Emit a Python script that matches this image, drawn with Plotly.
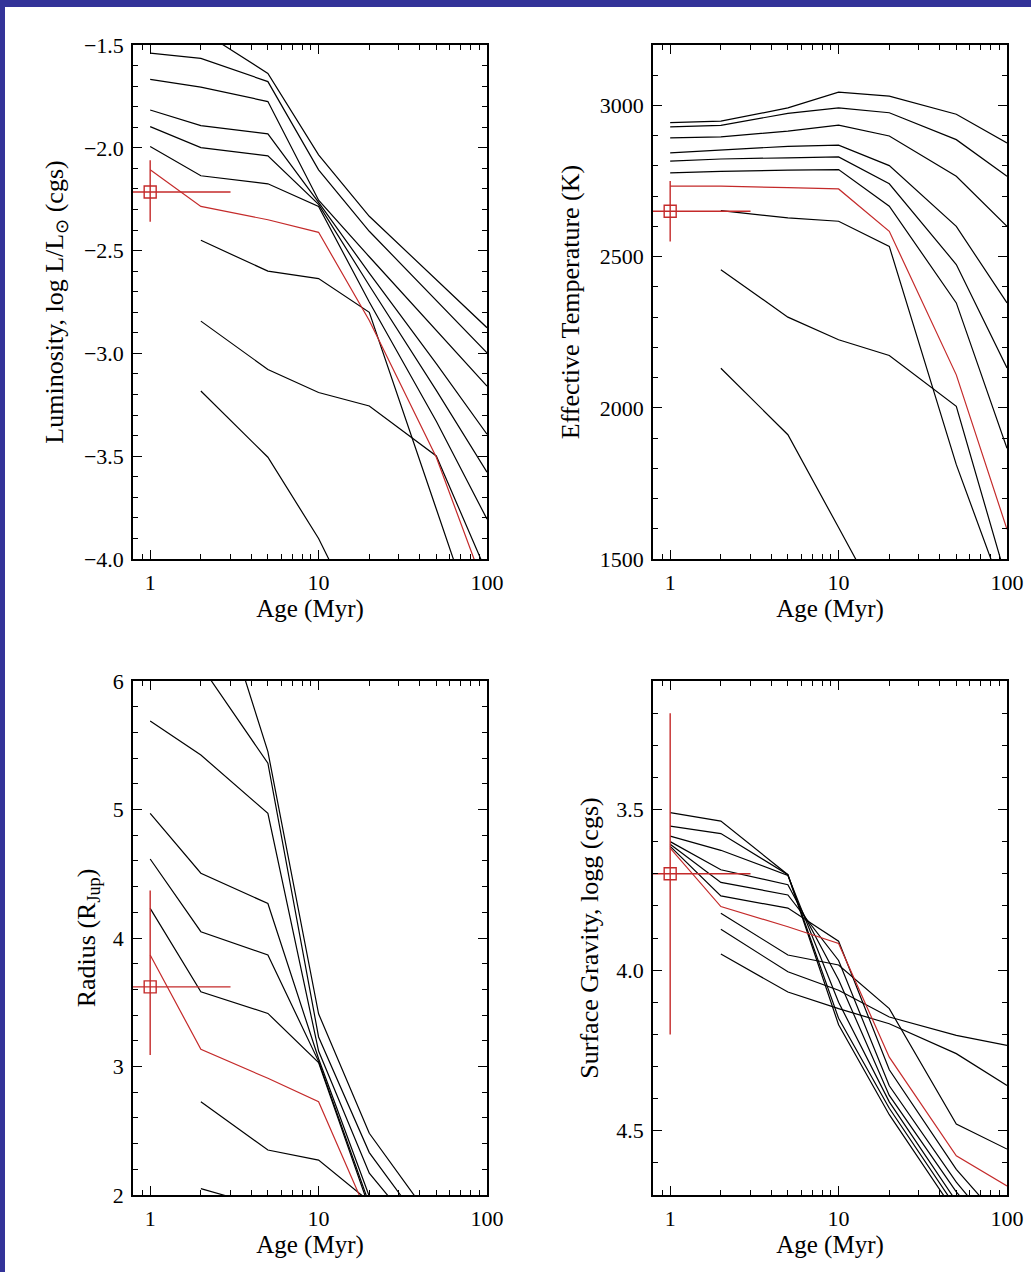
import plotly.graph_objects as go

# ---------------- data ----------------
ages = [1, 2, 5, 10, 20, 50, 100]  # Myr

# Luminosity, log L/Lsun  (black model tracks, top to bottom)
logL_t0 = [-1.40, -1.43, -1.638, -2.034, -2.333, -2.64, -2.875]
logL_t1 = [-1.540, -1.565, -1.678, -2.107, -2.406, -2.74, -2.997]
logL_t2 = [-1.667, -1.705, -1.775, -2.255, -2.53, -2.89, -3.159]
logL_t3 = [-1.816, -1.892, -1.932, -2.265, -2.61, -3.05, -3.393]
logL_t4 = [-1.897, -1.999, -2.039, -2.275, -2.67, -3.18, -3.578]
logL_t5 = [-1.994, -2.136, -2.175, -2.285, -2.75, -3.33, -3.806]
logL_t6 = [None, -2.450, -2.600, -2.636, -2.80, -3.757, -4.48]
logL_t7 = [None, -2.843, -3.078, -3.190, -3.256, -3.499, -4.07]
logL_t8 = [None, -3.183, -3.505, -3.900, -4.40, None, None]
logL_red = [-2.107, -2.285, -2.35, -2.411, -2.84, -3.505, -4.17]

# Effective temperature (K)
teff_t0 = [2943, 2948, 2992, 3044, 3031, 2971, 2876]
teff_t1 = [2929, 2934, 2974, 2992, 2976, 2887, 2766]
teff_t2 = [2893, 2896, 2915, 2935, 2899, 2766, 2600]
teff_t3 = [2843, 2852, 2865, 2869, 2801, 2600, 2347]
teff_t4 = [2816, 2823, 2827, 2830, 2741, 2474, 2132]
teff_t5 = [2777, 2782, 2786, 2788, 2667, 2347, 1866]
teff_t6 = [None, 2652, 2628, 2617, 2534, 1812, 1355]
teff_t7 = [None, 2457, 2300, 2225, 2173, 2005, 1426]
teff_t8 = [None, 2131, 1911, 1604, 1295, None, None]
teff_red = [2733, 2733, 2728, 2724, 2584, 2109, 1598]

# Radius (R_Jup)
rad_t0 = [7.47, 7.10, 5.45, 3.41, 2.48, 1.76, 1.50]
rad_t1 = [6.42, 6.12, 5.36, 3.23, 2.33, 1.62, None]
rad_t2 = [5.689, 5.424, 4.970, 3.12, 2.17, 1.54, None]
rad_t3 = [4.970, 4.504, 4.268, 3.06, 1.99, 1.50, None]
rad_t4 = [4.615, 4.049, 3.868, 3.04, 1.93, 1.45, None]
rad_t5 = [4.231, 3.582, 3.413, 3.03, 1.90, None, None]
rad_t6 = [None, 2.726, 2.350, 2.272, 1.95, None, None]
rad_t7 = [None, 2.050, 1.90, 1.80, 1.70, None, None]
rad_t8 = [None, 1.83, 1.57, 1.41, None, None, None]
rad_red = [3.868, 3.134, 2.908, 2.726, 1.82, None, None]

# Surface gravity, log g (cgs)
logg_t0 = [3.510, 3.536, 3.703, 4.17, 4.45, 4.76, None]
logg_t1 = [3.552, 3.575, 3.703, 4.15, 4.43, 4.74, None]
logg_t2 = [3.583, 3.627, 3.705, 4.10, 4.41, 4.72, 4.90]
logg_t3 = [3.600, 3.6875, 3.734, 4.03, 4.39, 4.69, 4.88]
logg_t4 = [3.608, 3.727, 3.766, 3.97, 4.36, 4.66, 4.85]
logg_t5 = [3.615, 3.769, 3.807, 3.91, 4.31, 4.62, 4.80]
logg_t6 = [None, 3.823, 3.953, 3.984, 4.12, 4.479, 4.557]
logg_t7 = [None, 3.950, 4.068, 4.12, 4.167, 4.26, 4.359]
logg_t8 = [None, 3.873, 4.005, 4.0625, 4.146, 4.203, 4.234]
logg_red = [3.620, 3.802, 3.865, 3.917, 4.271, 4.578, 4.672]

# Measured object (red square with error bars)
obj_age, obj_age_plus, obj_age_minus = 1.0, 2.0, 0.5
obj_logL, obj_logL_plus, obj_logL_minus = -2.215, 0.155, 0.145
obj_teff, obj_teff_err = 2650, 100
obj_rad, obj_rad_plus, obj_rad_minus = 3.62, 0.75, 0.53
obj_logg, obj_logg_err = 3.70, 0.50

# axis ticks
x_major = [1, 10, 100]
x_minor = [0.9, 2, 3, 4, 5, 6, 7, 8, 9, 20, 30, 40, 50, 60, 70, 80, 90]

# ---------------- figure ----------------
W, H = 1031, 1272
RED = "#c42a2a"
FONT = "Liberation Serif"

panels = [
    dict(black=[logL_t0, logL_t1, logL_t2, logL_t3, logL_t4, logL_t5, logL_t6, logL_t7, logL_t8],
         red=logL_red, oy=obj_logL, ep=obj_logL_plus, em=obj_logL_minus,
         px=(133, 487), py=(45, 559), yr=[-4.0, -1.5], dt=0.5, t0=-4.0, mdt=0.1,
         fmt=".1f", title="Luminosity, log L/L<sub>⊙</sub> (cgs)", ts=13),
    dict(black=[teff_t0, teff_t1, teff_t2, teff_t3, teff_t4, teff_t5, teff_t6, teff_t7, teff_t8],
         red=teff_red, oy=obj_teff, ep=obj_teff_err, em=obj_teff_err,
         px=(653, 1007), py=(45, 559), yr=[1500, 3200], dt=500, t0=1500, mdt=100,
         fmt="d", title="Effective Temperature (K)", ts=13),
    dict(black=[rad_t0, rad_t1, rad_t2, rad_t3, rad_t4, rad_t5, rad_t6, rad_t7, rad_t8],
         red=rad_red, oy=obj_rad, ep=obj_rad_plus, em=obj_rad_minus,
         px=(133, 487), py=(681, 1195), yr=[2, 6], dt=1, t0=2, mdt=0.2,
         fmt="d", title="Radius (R<sub>Jup</sub>)", ts=10),
    dict(black=[logg_t0, logg_t1, logg_t2, logg_t3, logg_t4, logg_t5, logg_t6, logg_t7, logg_t8],
         red=logg_red, oy=obj_logg, ep=obj_logg_err, em=obj_logg_err,
         px=(653, 1007), py=(681, 1195), yr=[4.7, 3.1], dt=0.5, t0=3.5, mdt=0.1,
         fmt=".1f", title="Surface Gravity, logg (cgs)", ts=10),
]

fig = go.Figure()
layout = {}

for i, p in enumerate(panels):
    n = "" if i == 0 else str(i + 1)
    xref, yref = "x" + n, "y" + n
    for tr in p["black"]:
        fig.add_trace(go.Scatter(x=ages, y=tr, mode="lines", xaxis=xref, yaxis=yref,
                                 line=dict(color="black", width=1.2), hoverinfo="skip"))
    fig.add_trace(go.Scatter(x=ages, y=p["red"], mode="lines", xaxis=xref, yaxis=yref,
                             line=dict(color=RED, width=1.2), hoverinfo="skip"))
    fig.add_trace(go.Scatter(
        x=[obj_age], y=[p["oy"]], mode="markers", xaxis=xref, yaxis=yref,
        marker=dict(symbol="square-open", size=12, color=RED, line=dict(width=1.4, color=RED)),
        error_x=dict(type="data", symmetric=False, array=[obj_age_plus],
                     arrayminus=[obj_age_minus], color=RED, thickness=1.4, width=0),
        error_y=dict(type="data", symmetric=False, array=[p["ep"]], arrayminus=[p["em"]],
                     color=RED, thickness=1.4, width=0),
        cliponaxis=True, hoverinfo="skip"))

    x0, x1 = p["px"]
    y0, y1 = p["py"]
    common = dict(showline=True, linecolor="black", linewidth=1.5, mirror="ticks",
                  ticks="inside", tickcolor="black", tickwidth=1.2, ticklen=9,
                  showgrid=False, zeroline=False,
                  tickfont=dict(family=FONT, size=22, color="black"))
    layout["xaxis" + n] = dict(
        common, type="log", range=[-0.102, 2.0], domain=[x0 / W, x1 / W],
        anchor=yref, tickmode="array", tickvals=x_major, ticktext=["1", "10", "100"],
        ticklabelstandoff=3,
        title=dict(text="Age (Myr)", standoff=4,
                   font=dict(family=FONT, size=25, color="black")),
        minor=dict(tickmode="array", tickvals=x_minor, ticks="inside", ticklen=5,
                   tickcolor="black", tickwidth=1, showgrid=False))
    layout["yaxis" + n] = dict(
        common, type="linear", range=p["yr"], domain=[1 - y1 / H, 1 - y0 / H],
        anchor=xref, tickmode="linear", tick0=p["t0"], dtick=p["dt"],
        tickformat=p["fmt"], ticklabelstandoff=3,
        title=dict(text=p["title"], standoff=p["ts"],
                   font=dict(family=FONT, size=26, color="black")),
        minor=dict(tick0=p["t0"], dtick=p["mdt"], ticks="inside", ticklen=5,
                   tickcolor="black", tickwidth=1, showgrid=False))

shapes = [
    dict(type="rect", xref="paper", yref="paper", x0=0, x1=1, y0=1 - 7 / H, y1=1,
         fillcolor="#333399", line=dict(width=0), layer="above"),
    dict(type="rect", xref="paper", yref="paper", x0=0, x1=5 / W, y0=0, y1=1,
         fillcolor="#333399", line=dict(width=0), layer="above"),
]

fig.update_layout(
    width=W, height=H, margin=dict(l=0, r=0, t=0, b=0, autoexpand=False),
    paper_bgcolor="white", plot_bgcolor="white", showlegend=False,
    shapes=shapes, **layout)

fig.write_html("out.html")
